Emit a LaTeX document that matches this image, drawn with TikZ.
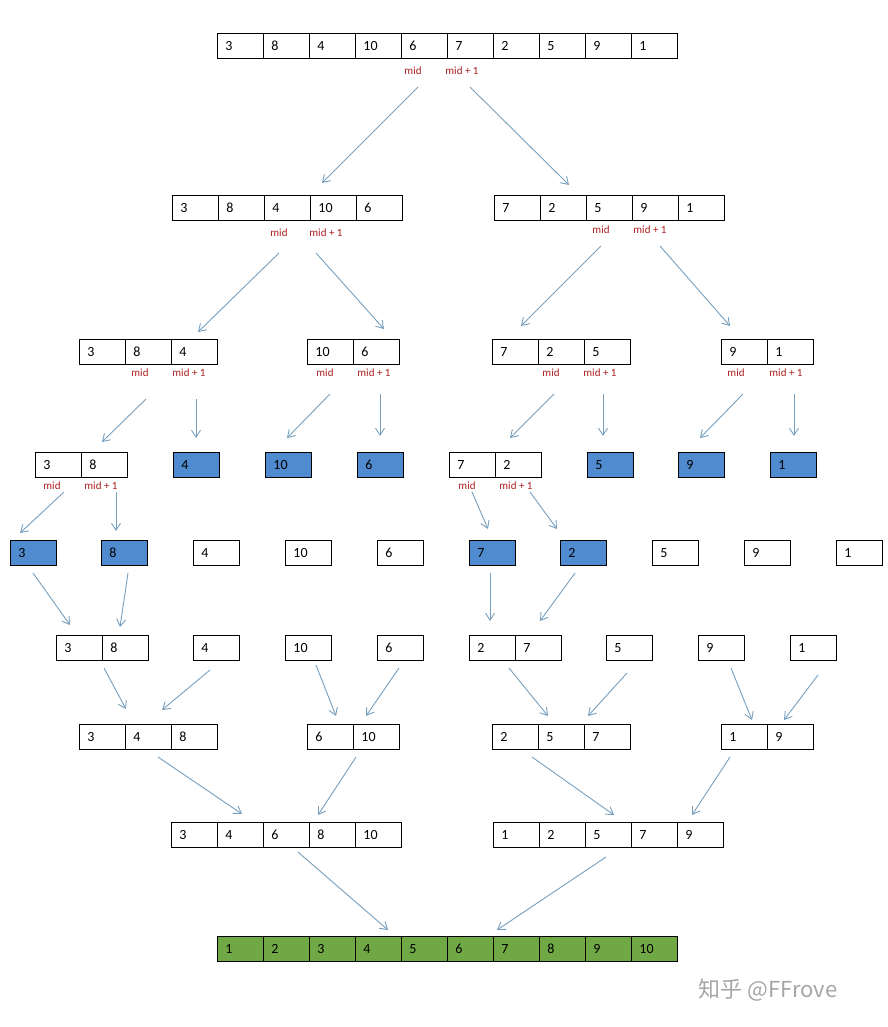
\documentclass[tikz,border=0pt]{standalone}
\usepackage{fontspec}
\setmainfont{Carlito}
\newfontfamily\cjk{Noto Sans CJK SC}
\usetikzlibrary{arrows.meta}
\definecolor{arrc}{RGB}{120,160,190}
\definecolor{blu}{RGB}{79,139,206}
\definecolor{grn}{RGB}{112,168,70}
\definecolor{lab}{RGB}{170,30,30}
\tikzset{
  cell/.style={draw=black,line width=0.9pt,minimum height=25pt,text width=30pt,inner xsep=8pt,inner ysep=0pt,align=left,anchor=north west,font=\fontsize{14}{14}\selectfont},
  arr/.style={draw=arrc,line width=0.9pt,-{Straight Barb[length=7pt,width=9pt]}},
  lbl/.style={text=lab,font=\fontsize{11}{11}\selectfont,inner sep=0pt}
}
\newcommand\cells[5]{%
  \foreach \v [count=\i from 0] in {#5}{\node[cell,fill=#4] (#1-\i) at ({#2+46*\i},#3) {\v};}}
\newcommand\midlab[4]{\node[lbl] (#1m) at (#2,#4) {mid}; \node[lbl] (#1p) at (#3,#4) {mid + 1};}
\begin{document}
\begin{tikzpicture}[x=1pt,y=-1pt]
\useasboundingbox[fill=white] (0,0) rectangle (887,1027);
% row 0
\cells{r0}{217}{33}{white}{3,8,4,10,6,7,2,5,9,1}
\midlab{r0}{413}{462}{71}
% row 1
\cells{r1a}{172}{195}{white}{3,8,4,10,6}
\cells{r1b}{494}{195}{white}{7,2,5,9,1}
\midlab{r1a}{279}{326}{233}
\midlab{r1b}{601}{650}{230}
% row 2
\cells{r2a}{79}{339}{white}{3,8,4}
\cells{r2b}{307}{339}{white}{10,6}
\cells{r2c}{492}{339}{white}{7,2,5}
\cells{r2d}{721}{339}{white}{9,1}
\midlab{r2a}{140}{189}{373}
\midlab{r2b}{325}{374}{373}
\midlab{r2c}{551}{600}{373}
\midlab{r2d}{736}{786}{373}
% row 3
\cells{r3a}{35}{452}{white}{3,8}
\cells{r3b}{173}{452}{blu}{4}
\cells{r3c}{265}{452}{blu}{10}
\cells{r3d}{357}{452}{blu}{6}
\cells{r3e}{449}{452}{white}{7,2}
\cells{r3f}{587}{452}{blu}{5}
\cells{r3g}{678}{452}{blu}{9}
\cells{r3h}{770}{452}{blu}{1}
\midlab{r3a}{52}{101}{486}
\midlab{r3e}{467}{516}{486}
% row 4
\cells{r4a}{10}{540}{blu}{3}
\cells{r4b}{101}{540}{blu}{8}
\cells{r4c}{193}{540}{white}{4}
\cells{r4d}{285}{540}{white}{10}
\cells{r4e}{377}{540}{white}{6}
\cells{r4f}{469}{540}{blu}{7}
\cells{r4g}{560}{540}{blu}{2}
\cells{r4h}{652}{540}{white}{5}
\cells{r4i}{744}{540}{white}{9}
\cells{r4j}{836}{540}{white}{1}
% row 5
\cells{r5a}{56}{635}{white}{3,8}
\cells{r5b}{193}{635}{white}{4}
\cells{r5c}{285}{635}{white}{10}
\cells{r5d}{377}{635}{white}{6}
\cells{r5e}{469}{635}{white}{2,7}
\cells{r5f}{606}{635}{white}{5}
\cells{r5g}{698}{635}{white}{9}
\cells{r5h}{790}{635}{white}{1}
% row 6
\cells{r6a}{79}{724}{white}{3,4,8}
\cells{r6b}{307}{724}{white}{6,10}
\cells{r6c}{492}{724}{white}{2,5,7}
\cells{r6d}{721}{724}{white}{1,9}
% row 7
\cells{r7a}{171}{822}{white}{3,4,6,8,10}
\cells{r7b}{493}{822}{white}{1,2,5,7,9}
% row 8
\cells{r8}{217}{936}{grn}{1,2,3,4,5,6,7,8,9,10}
% arrows
\foreach \a/\b/\c/\d [count=\n] in {
 418/87/322/183, 470/87/569/185,
 279/253/198/332, 316/253/384/329, 601/246/521/326, 660/246/730/326,
 146/399/102/442, 196/399/196/438, 330/394/287/438, 380/394/380/436,
 554/394/510/438, 603/394/603/436, 743/394/700/438, 794/394/794/436,
 64/492/20/533, 116/492/116/531, 472/492/488/529, 530/492/557/529,
 33/573/70/625, 128/573/120/627, 490/573/490/621, 575/573/540/621,
 104/668/126/709, 210/670/162/710, 316/665/336/716, 399/668/366/716,
 509/668/548/716, 627/673/588/716, 731/668/752/720, 818/675/784/720,
 158/757/242/814, 356/757/318/815, 532/757/614/815, 730/757/692/815,
 298/852/388/930, 606/857/497/930}{
  \coordinate (s\n) at (\a,\b); \coordinate (e\n) at (\c,\d);
  \draw[arr] (s\n) -- (e\n);}
\node[text=gray!70,font=\cjk\fontsize{22}{22}\selectfont,anchor=west] (wm) at (695,990) {知乎 @FFrove};
\end{tikzpicture}
\end{document}
